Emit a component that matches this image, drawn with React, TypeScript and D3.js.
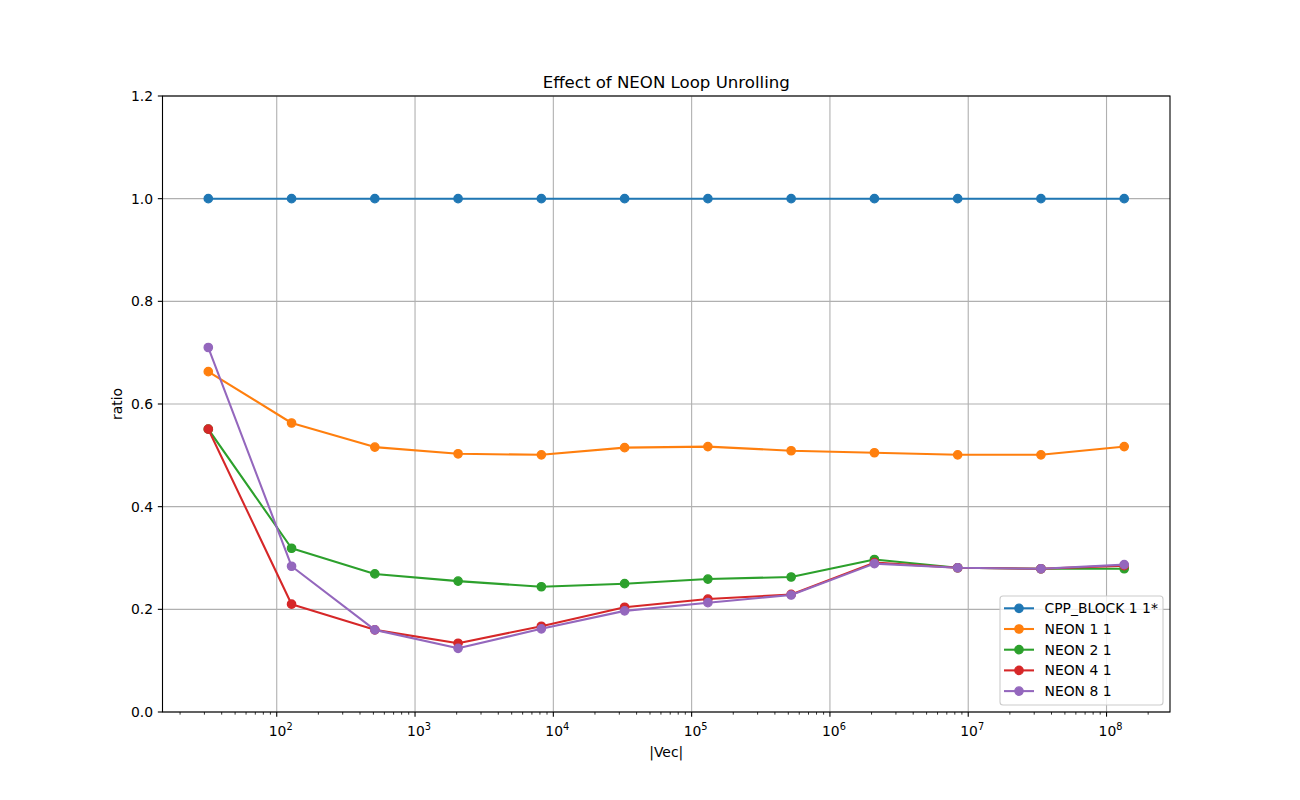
import React from "react";
import * as d3 from "d3";

const xValues = [32, 128, 512, 2048, 8192, 32768, 131072, 524288, 2097152, 8388608, 33554432, 134217728];
const seriesNames = ["CPP_BLOCK 1 1*", "NEON 1 1", "NEON 2 1", "NEON 4 1", "NEON 8 1"];
const cppBlock = [1, 1, 1, 1, 1, 1, 1, 1, 1, 1, 1, 1];
const neon11 = [0.663, 0.563, 0.516, 0.503, 0.501, 0.515, 0.517, 0.509, 0.505, 0.501, 0.501, 0.517];
const neon21 = [0.551, 0.319, 0.269, 0.255, 0.244, 0.250, 0.259, 0.263, 0.297, 0.281, 0.279, 0.279];
const neon41 = [0.551, 0.210, 0.160, 0.134, 0.167, 0.204, 0.220, 0.229, 0.291, 0.281, 0.279, 0.285];
const neon81 = [0.710, 0.284, 0.160, 0.124, 0.162, 0.197, 0.213, 0.228, 0.289, 0.281, 0.279, 0.287];
const yTicks = [0, 0.2, 0.4, 0.6, 0.8, 1.0, 1.2];
const xMajorExps = [2, 3, 4, 5, 6, 7, 8];
const colors = ["#1f77b4", "#ff7f0e", "#2ca02c", "#d62728", "#9467bd"];

const W = 1300, H = 800;
const L = 162.5, R = 1170, T = 96, B = 712;
const FONT = "DejaVu Sans, sans-serif";
const FS = 13.9;

export default function App() {
  const series = [cppBlock, neon11, neon21, neon41, neon81];
  const lo = Math.log10(xValues[0]);
  const hi = Math.log10(xValues[xValues.length - 1]);
  const m = (hi - lo) * 0.05;
  const x = d3.scaleLog().domain([Math.pow(10, lo - m), Math.pow(10, hi + m)]).range([L, R]);
  const y = d3.scaleLinear().domain([0, 1.2]).range([B, T]);
  const line = d3.line<number>().x((_, i) => x(xValues[i])).y((v) => y(v));
  const [dmin, dmax] = x.domain();
  const minors: number[] = [];
  for (let e = 0; e <= 9; e++) {
    for (let k = 2; k <= 9; k++) {
      const v = k * Math.pow(10, e);
      if (v >= dmin && v <= dmax) minors.push(v);
    }
  }
  const legX = 1000, legY = 596, legW = 163, legH = 109, rowH = 20.7;
  return (
    <svg width={W} height={H} style={{ position: "absolute", left: 0, top: 0 }} fontFamily={FONT}>
      <rect x={0} y={0} width={W} height={H} fill="white" />
      {xMajorExps.map((e) => (
        <line key={"gx" + e} x1={x(Math.pow(10, e))} x2={x(Math.pow(10, e))} y1={T} y2={B} stroke="#b0b0b0" strokeWidth={1.1} />
      ))}
      {yTicks.map((t) => (
        <line key={"gy" + t} x1={L} x2={R} y1={y(t)} y2={y(t)} stroke="#b0b0b0" strokeWidth={1.1} />
      ))}
      {series.map((s, si) => (
        <g key={"s" + si}>
          <path d={line(s) || ""} fill="none" stroke={colors[si]} strokeWidth={2.08} strokeLinejoin="round" strokeLinecap="square" />
          {s.map((v, i) => (
            <circle key={i} cx={x(xValues[i])} cy={y(v)} r={4.17} fill={colors[si]} stroke={colors[si]} strokeWidth={1.33} />
          ))}
        </g>
      ))}
      <rect x={L} y={T} width={R - L} height={B - T} fill="none" stroke="black" strokeWidth={1.1} />
      {yTicks.map((t) => (
        <g key={"yt" + t}>
          <line x1={L - 4.67} x2={L} y1={y(t)} y2={y(t)} stroke="black" strokeWidth={1.1} />
          <text x={L - 9.5} y={y(t)} dy="0.36em" textAnchor="end" fontSize={FS} fill="black">{t.toFixed(1)}</text>
        </g>
      ))}
      {xMajorExps.map((e) => (
        <g key={"xt" + e}>
          <line x1={x(Math.pow(10, e))} x2={x(Math.pow(10, e))} y1={B} y2={B + 4.67} stroke="black" strokeWidth={1.1} />
          <text x={x(Math.pow(10, e)) + 4} y={736} textAnchor="middle" fontSize={FS} fill="black">
            10<tspan fontSize={9.8} dy={-6}>{e}</tspan>
          </text>
        </g>
      ))}
      {minors.map((v, i) => (
        <line key={"mx" + i} x1={x(v)} x2={x(v)} y1={B} y2={B + 2.67} stroke="black" strokeWidth={0.8} />
      ))}
      <text x={(L + R) / 2} y={88} textAnchor="middle" fontSize={16.6} fill="black">Effect of NEON Loop Unrolling</text>
      <text x={(L + R) / 2} y={757} textAnchor="middle" fontSize={FS} fill="black">|Vec|</text>
      <text transform={`translate(122,${(T + B) / 2}) rotate(-90)`} textAnchor="middle" fontSize={FS} fill="black">ratio</text>
      <rect x={legX} y={legY} width={legW} height={legH} rx={3} fill="white" fillOpacity={0.8} stroke="#cccccc" strokeWidth={1.1} />
      {seriesNames.map((n, i) => {
        const cy = legY + 12.3 + i * rowH;
        return (
          <g key={"lg" + i}>
            <line x1={legX + 4} x2={legX + 34} y1={cy} y2={cy} stroke={colors[i]} strokeWidth={2.08} />
            <circle cx={legX + 19} cy={cy} r={4.17} fill={colors[i]} stroke={colors[i]} strokeWidth={1.33} />
            <text x={legX + 44.5} y={cy} dy="0.36em" fontSize={FS} fill="black">{n}</text>
          </g>
        );
      })}
    </svg>
  );
}
